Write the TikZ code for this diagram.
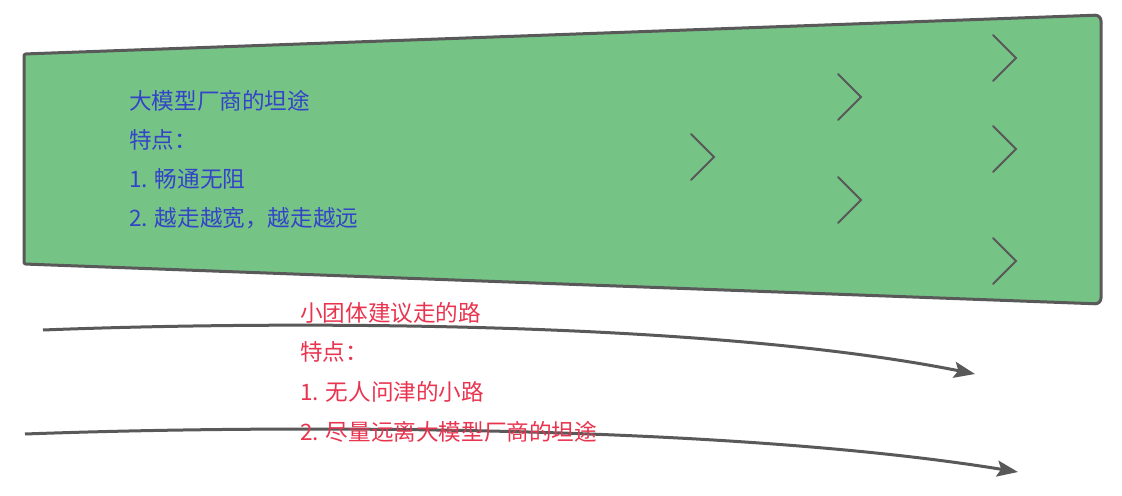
\documentclass[tikz,border=0pt]{standalone}
\usepackage{fontspec}
\setmainfont{Noto Sans CJK SC}
\usetikzlibrary{arrows.meta,calc}
\definecolor{roadgreen}{HTML}{76C386}
\definecolor{edgegray}{HTML}{595959}
\definecolor{txtblue}{HTML}{3344C8}
\definecolor{txtred}{HTML}{E8344F}
\tikzset{
  road/.style={draw=edgegray, line width=3bp, fill=roadgreen, line join=round},
  chev/.style={draw=edgegray, line width=2bp, line cap=round},
  path arrow/.style={draw=edgegray, line width=3bp, -{Stealth[length=21bp,width=16bp,inset=4bp]}},
  bluetxt/.style={anchor=base west, inner sep=0pt, text=txtblue, font=\fontsize{22.7pt}{26pt}\selectfont},
  redtxt/.style={anchor=base west, inner sep=0pt, text=txtred, font=\fontsize{22.7pt}{26pt}\selectfont},
}
\begin{document}
\begin{tikzpicture}[x=1bp,y=-1bp]
\useasboundingbox (0,0) rectangle (1122,496);
% the wide road
\path[road] (24,264) [rounded corners=2bp] -- (24,54) [rounded corners=6bp] -- (1101,15) -- (1101,304) [rounded corners=2bp] -- (24,264) -- cycle;
% chevrons
\foreach \cx/\cy [count=\i] in {714/157, 861/97, 861/200, 1016/58, 1016/149, 1016/261}{
  \coordinate (tip\i) at (\cx,\cy);
  \draw[chev] ($(tip\i)+(-23,-23)$) -- (tip\i) -- ($(tip\i)+(-23,23)$);
}
% blue text
\node[bluetxt] (b1) at (129,110) {大模型厂商的坦途};
\node[bluetxt] (b2) at (129,149) {特点：};
\node[bluetxt] (b3) at (129,188) {1. 畅通无阻};
\node[bluetxt] (b4) at (129,226.5) {2. 越走越宽，越走越远};
% small paths
\coordinate (a1s) at (43,330);
\coordinate (a1e) at (975,374);
\coordinate (a2s) at (25,434);
\coordinate (a2e) at (1018,472);
\draw[path arrow] (a1s) .. controls (300,320) and (715,322) .. (a1e);
\draw[path arrow] (a2s) .. controls (300,424) and (735,426) .. (a2e);
% red text
\node[redtxt] (r1) at (300,322) {小团体建议走的路};
\node[redtxt] (r2) at (300,361) {特点：};
\node[redtxt] (r3) at (300,400.5) {1. 无人问津的小路};
\node[redtxt] (r4) at (300,440) {2. 尽量远离大模型厂商的坦途};
\end{tikzpicture}
\end{document}
